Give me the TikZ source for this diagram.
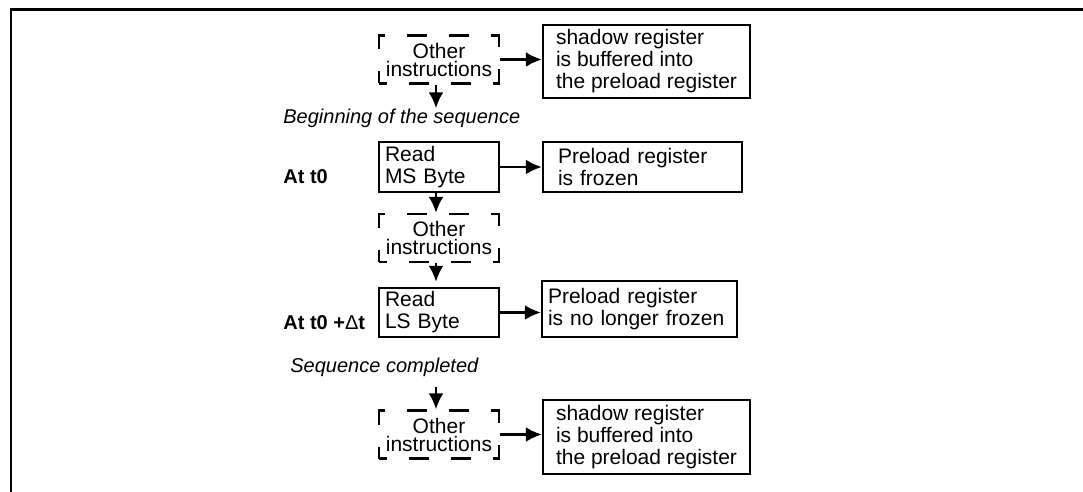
\documentclass[tikz,border=0pt]{standalone}
\usepackage{fontspec}
\setmainfont{Liberation Sans}
\usetikzlibrary{arrows.meta,positioning}
\tikzset{>={Latex[length=8pt,width=7.5pt]}}
\tikzset{font=\fontsize{10.5}{11}\selectfont}
\tikzset{regbox/.style={draw, line width=1.2pt, align=left, inner ysep=0pt, inner xsep=#1},
  otherbox/.style={draw, line width=1.2pt, align=center, inner sep=0pt,
    minimum width=60pt, minimum height=24pt,
    dash pattern=on 10pt off 11pt, dash phase=6pt,
    font=\fontsize{10.5}{9}\selectfont},
  flow/.style={->, line width=1.2pt},
  seqlabel/.style={anchor=west, inner sep=0pt, font=\itshape},
  timelabel/.style={anchor=west, inner sep=0pt, font=\bfseries}}

\begin{document}
\begin{tikzpicture}[x=0.5pt,y=-0.5pt]
  \useasboundingbox (0,0) rectangle (1083,492);
  % frame, runs off to the right and bottom
  \draw[line width=1.3pt] (11,510) -- (11,9.5) -- (1100,9.5);

  \node[otherbox] (other1) at (439,59.5) {Other\\instructions};
  \node[regbox=0pt, minimum width=103.5pt, minimum height=36.5pt] (shadow1) at (646.5,61.5)
    {shadow register\\is buffered into\\the preload register};
  \node[seqlabel] (begin) at (283,118) {Beginning of the sequence};

  \node[timelabel] (att0) at (283,177) {At t0};
  \node[regbox=3pt, text width=54pt, minimum height=25pt] (readms) at (439,167) {Read\\MS Byte};
  \node[regbox=7.5pt, text width=84.5pt, minimum height=25pt] (frozen) at (642.5,167)
    {Preload register\\is frozen};

  \node[otherbox] (other2) at (439,238) {Other\\instructions};

  \node[timelabel] (att1) at (283,323) {At t0 +{\mdseries Δ}t};
  \node[regbox=3pt, text width=54pt, minimum height=24.5pt] (readls) at (439,312.5) {Read\\LS Byte};
  \node[regbox=3pt, text width=91.5pt, minimum height=28pt] (unfrozen) at (639.5,309)
    {Preload register\\is no longer frozen};

  \node[seqlabel] (done) at (290,367) {Sequence completed};
  \node[otherbox] (other3) at (439,434.5) {Other\\instructions};
  \node[regbox=0pt, minimum width=103.5pt, minimum height=37pt] (shadow2) at (646.5,437)
    {shadow register\\is buffered into\\the preload register};

  \draw[flow] (other1.east) -- (other1.east -| shadow1.west);
  \draw[flow] ([xshift=-1.5pt]other1.south) -- ([xshift=-1.5pt]other1.south |- begin.north);
  \draw[flow] (readms.east) -- (frozen.west);
  \draw[flow] ([xshift=-1.5pt]readms.south) -- ([xshift=-1.5pt]other2.north);
  \draw[flow, shorten >=2.5pt] ([xshift=-1.5pt]other2.south) -- ([xshift=-1.5pt]readls.north);
  \draw[flow] (readls.east) -- (readls.east -| unfrozen.west);
  \draw[flow, shorten <=5pt] ([xshift=-1.5pt]other3.north |- done.south) -- ([xshift=-1.5pt]other3.north);
  \draw[flow] (other3.east) -- (other3.east -| shadow2.west);
\end{tikzpicture}
\end{document}
